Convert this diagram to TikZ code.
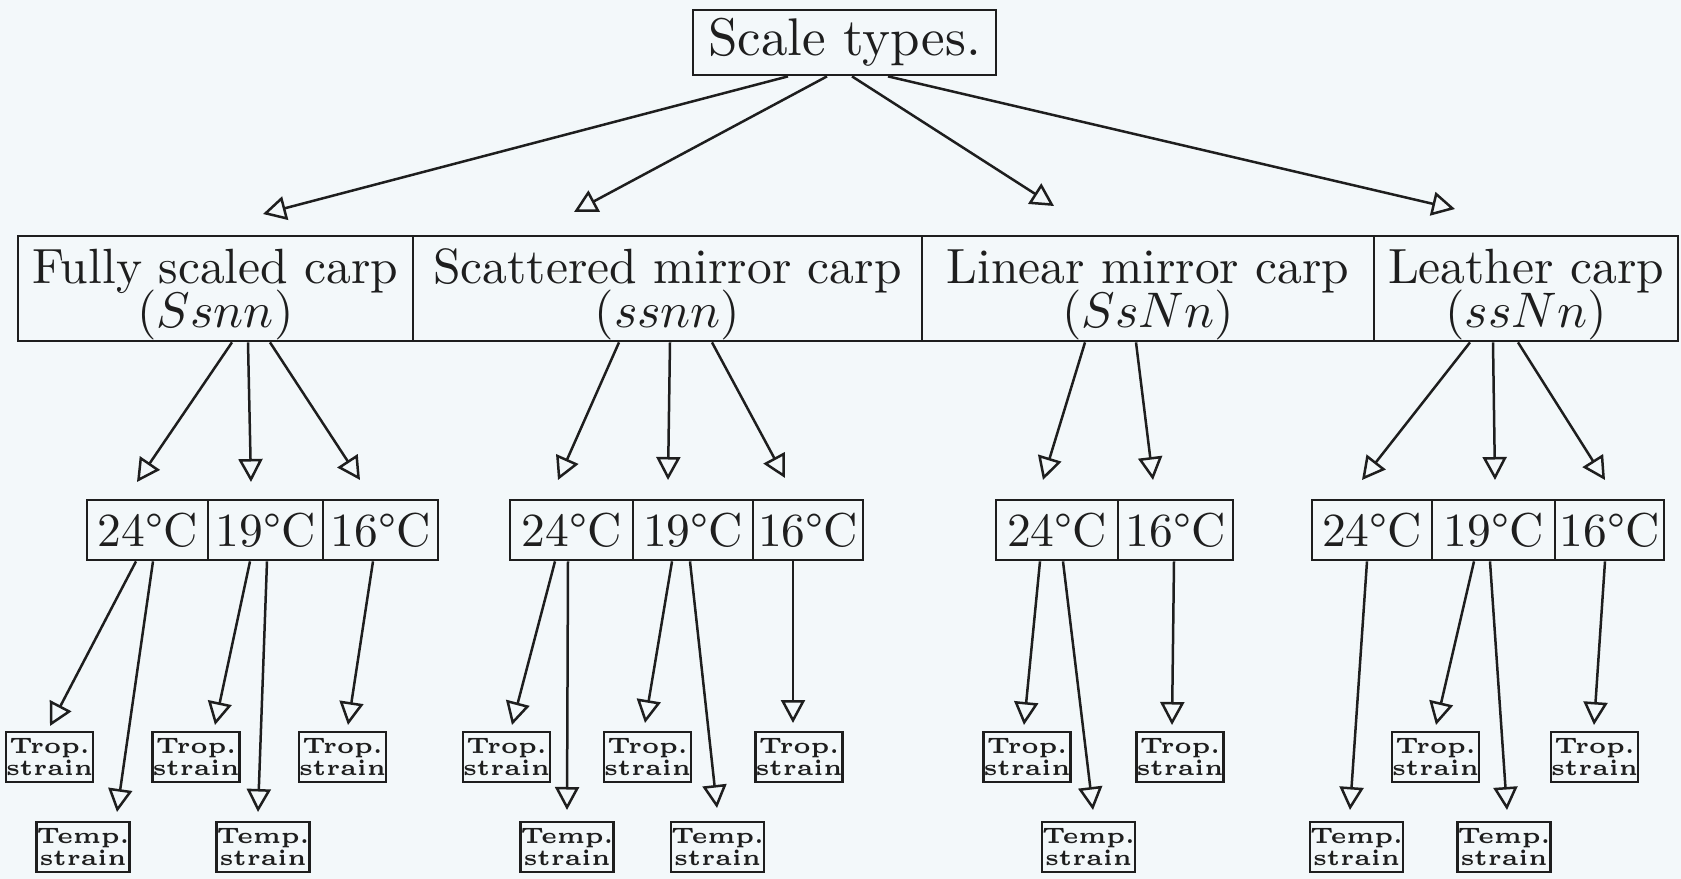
\documentclass[tikz,border=0pt]{standalone}
\usetikzlibrary{arrows.meta,calc}
\definecolor{bgc}{RGB}{243,248,250}
\definecolor{ink}{RGB}{30,30,30}
\setlength{\lineskiplimit}{-100pt}
\newcommand\topstrut{\rule{0pt}{9.3pt}}
\begin{document}
\begin{tikzpicture}[x=0.2pt,y=-0.2pt,
  every node/.style={draw=ink, line width=0.55pt, inner sep=0pt, text=ink},
  topbox/.style={minimum width=60.6pt, minimum height=13pt, font=\fontsize{10.6}{12}\selectfont},
  kindbox/.style={minimum height=21pt, align=center, font=\fontsize{9.9}{8.6}\selectfont},
  tempbox/.style={minimum height=12pt, font=\fontsize{9.5}{12}\selectfont},
  strainbox/.style={minimum width=17.4pt, minimum height=10pt, align=center, font=\fontsize{4.5}{4.5}\selectfont\bfseries},
  arr/.style={draw=ink, line width=0.5pt, -{Triangle[open, length=4.6pt, width=4.8pt, line width=0.5pt]}}
]
\fill[bgc] (0,0) rectangle (1681,879);
\useasboundingbox (0,0) rectangle (1681,879);

% top
\node[topbox] (top) at (844.5,42.5) {Scale types.};

% scale types
\node[kindbox, minimum width=79pt]    (fully) at (215.5,288.5) {\topstrut Fully scaled carp\\$(Ssnn)$};
\node[kindbox, minimum width=101.8pt] (scat)  at (667.5,288.5) {\topstrut Scattered mirror carp\\$(ssnn)$};
\node[kindbox, minimum width=90.4pt]  (lin)   at (1148,288.5)  {\topstrut Linear mirror carp\\$(SsNn)$};
\node[kindbox, minimum width=60.8pt]  (lea)   at (1526,288.5)  {\topstrut Leather carp\\$(ssNn)$};

% temperatures
\node[tempbox, minimum width=24.2pt] (t11) at (147.5,530) {24\textdegree C};
\node[tempbox, minimum width=23pt]   (t12) at (265.5,530) {19\textdegree C};
\node[tempbox, minimum width=23pt]   (t13) at (380.5,530) {16\textdegree C};
\node[tempbox, minimum width=24.6pt] (t21) at (571.5,530) {24\textdegree C};
\node[tempbox, minimum width=24pt]   (t22) at (693,530)   {19\textdegree C};
\node[tempbox, minimum width=22pt]   (t23) at (808,530)   {16\textdegree C};
\node[tempbox, minimum width=24.4pt] (t31) at (1057,530)  {24\textdegree C};
\node[tempbox, minimum width=23pt]   (t32) at (1175.5,530){16\textdegree C};
\node[tempbox, minimum width=24pt]   (t41) at (1372,530)  {24\textdegree C};
\node[tempbox, minimum width=24.6pt] (t42) at (1493.5,530){19\textdegree C};
\node[tempbox, minimum width=21.8pt] (t43) at (1609.5,530){16\textdegree C};

% strains
\foreach \cx [count=\i] in {49.5,196,342.5,506.5,647.5,799,1027,1180,1435.5,1594.5}
  \node[strainbox] (tr\i) at (\cx,757) {Trop.\\strain};
\foreach \cx [count=\i] in {83,263,567,717.5,1088.5,1356.5,1504}
  \node[strainbox] (te\i) at (\cx,847) {Temp.\\strain};

% connectors
\foreach \s/\d/\px/\py [count=\i] in {
  top/-56.5/263/214, top/-17.5/574/212, top/7.5/1054/206, top/43.5/1455/209,
  fully/16.5/137/482, fully/32.5/251/482, fully/54.5/360/480,
  scat/-48.5/558/480, scat/2.5/668/480, scat/44.5/785/478,
  lin/-63/1043/480, lin/-12/1153/480,
  lea/-56/1362/480, lea/-33/1495/480, lea/-8/1605/480,
  t11/-11.5/50/726, t11/5.5/117/812, t12/-15.5/215/725, t12/1.5/258/812, t13/-7.5/348/725,
  t21/-16.5/512/725, t21/-3.5/567/810, t22/-21/645/723, t22/-3/717/808, t23/-15/793/723,
  t31/-17/1024/725, t31/6/1093/810, t32/-1.5/1172/725,
  t41/-5/1350/810, t42/-19.5/1436/725, t42/-3.5/1507/810, t43/-4.5/1594/725}
{
  \coordinate (tip\i) at (\px,\py);
  \draw[arr] ($(\s.south)+(\d,0)$) -- (tip\i);
}
\end{tikzpicture}
\end{document}
